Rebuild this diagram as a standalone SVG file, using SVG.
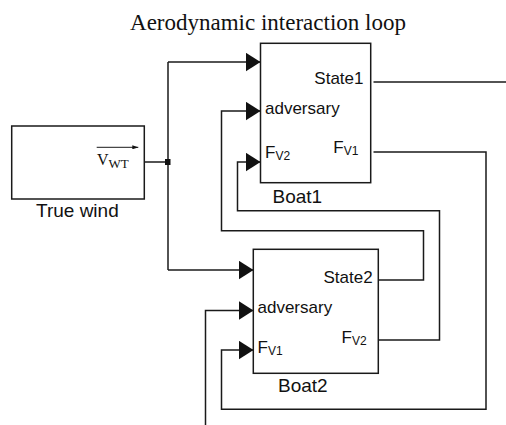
<svg xmlns="http://www.w3.org/2000/svg" width="506" height="425" viewBox="0 0 506 425">
<style>
.box{fill:#fff;stroke:#1a1a1a;stroke-width:1.5}
.w{fill:none;stroke:#1a1a1a;stroke-width:1.5}
.s{font-family:"Liberation Sans",Arial,sans-serif;fill:#111}
.p{font-size:17px}
.sub{font-size:12px}
.lbl{font-size:19px}
.serif{font-family:"Liberation Serif","Times New Roman",serif;fill:#111}
</style>
<defs>
<marker id="arr" markerUnits="userSpaceOnUse" markerWidth="16" markerHeight="19" viewBox="0 0 16 19" refX="15" refY="9.5" orient="auto">
<path d="M0,0 L15,9.5 L0,19 z" fill="#111"/>
</marker>
<marker id="sarr" markerUnits="userSpaceOnUse" markerWidth="6" markerHeight="4" viewBox="0 0 6 4" refX="6" refY="2" orient="auto">
<path d="M0,0 L6,2 L0,4 z" fill="#111"/>
</marker>
</defs>
<text class="serif" x="268" y="30" font-size="23" text-anchor="middle">Aerodynamic interaction loop</text>
<g id="connectors">
<path class="w" d="M144.3,162 H168"/>
<path class="w" d="M168,62 V270"/>
<path class="w" d="M168,62 H260.5" marker-end="url(#arr)"/>
<path class="w" d="M168,270 H253.5" marker-end="url(#arr)"/>
<path class="w" d="M373.5,82 H506"/>
<path class="w" d="M373.5,152 H486 V409.3 H221.5 V350 H253.5" marker-end="url(#arr)"/>
<path class="w" d="M378.3,280 H423.5 V230.7 H221.5 V111 H260.5" marker-end="url(#arr)"/>
<path class="w" d="M378.3,340 H439.5 V210.7 H237.5 V162 H260.5" marker-end="url(#arr)"/>
<path class="w" d="M205.5,425 V310.5 H253.5" marker-end="url(#arr)"/>
<rect x="165" y="159" width="5.5" height="6" fill="#111"/>
</g>
<g id="truewind">
<rect class="box" x="11.7" y="126" width="132.6" height="73"/>
<path class="w" d="M96.7,147.3 H138.3" stroke-width="1" marker-end="url(#sarr)" style="stroke-width:1"/>
<text class="serif" x="97" y="165" font-size="16">V<tspan font-size="13" dy="2.5">WT</tspan></text>
<text class="s lbl" x="36" y="217" font-size="19.5">True wind</text>
</g>
<g id="boat1">
<rect class="box" x="260.5" y="43.3" width="110.2" height="139.4"/>
<text class="s p" x="363.5" y="84.3" text-anchor="end">State1</text>
<text class="s p" x="265" y="114">adversary</text>
<text class="s p" x="265" y="158.3">F<tspan class="sub" dy="2">V2</tspan></text>
<text class="s p" x="333.3" y="153.3">F<tspan class="sub" dy="2">V1</tspan></text>
<text class="s lbl" x="272.5" y="203.3">Boat1</text>
</g>
<g id="boat2">
<rect class="box" x="253.3" y="249.3" width="125" height="124"/>
<text class="s p" x="372.7" y="283.3" text-anchor="end">State2</text>
<text class="s p" x="257.5" y="313.3">adversary</text>
<text class="s p" x="257.5" y="352.7">F<tspan class="sub" dy="2">V1</tspan></text>
<text class="s p" x="341.5" y="343.3">F<tspan class="sub" dy="2">V2</tspan></text>
<text class="s lbl" x="278" y="391.7">Boat2</text>
</g>
</svg>
